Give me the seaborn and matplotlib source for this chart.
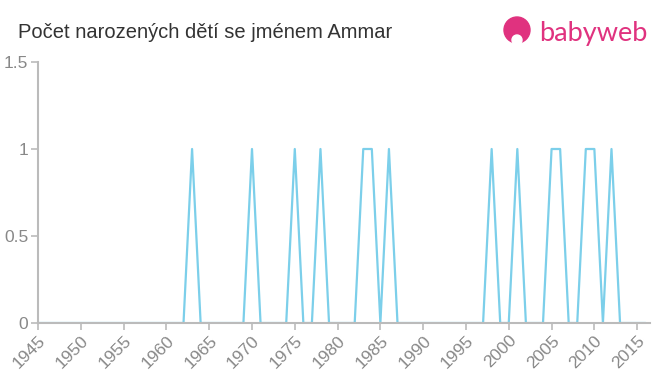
import numpy as np
import pandas as pd
import matplotlib
matplotlib.use("Agg")
import matplotlib.pyplot as plt
import seaborn as sns
from matplotlib.patches import Circle

years = list(range(1945, 2017))
one_years = [1963, 1970, 1975, 1978, 1983, 1984, 1986, 1998, 2001, 2005, 2006, 2009, 2010, 2012]
counts = [1 if y in one_years else 0 for y in years]
xticks = list(range(1945, 2016, 5))
yticks = [0, 0.5, 1, 1.5]
yticklabels = ["0", "0.5", "1", "1.5"]
title = "Počet narozených dětí se jménem Ammar"

df = pd.DataFrame({"year": years, "count": counts})

sns.set_theme(style="white")
plt.rcParams['font.family'] = ['Liberation Sans', 'DejaVu Sans']

fig = plt.figure(figsize=(6.6, 3.75), dpi=100)
ax = fig.add_axes([38/660, 1-323/375, (650-38)/660, (323-62)/375])
sns.lineplot(data=df, x="year", y="count", ax=ax, color="#7ccfea", linewidth=1.6)

ax.set_xlim(1945, 2016.5)
ax.set_ylim(0, 1.5)
ax.set_xticks(xticks)
ax.set_xticklabels([str(t) for t in xticks], rotation=45, ha="right", rotation_mode="anchor",
                   color="#888888", fontsize=12.5)
ax.set_yticks(yticks)
ax.set_yticklabels(yticklabels, color="#888888", fontsize=12.5)
ax.set_xlabel("")
ax.set_ylabel("")
for s in ["top", "right"]:
    ax.spines[s].set_visible(False)
for s in ["left", "bottom"]:
    ax.spines[s].set_color("#bbbbbb")
    ax.spines[s].set_linewidth(1.5)
ax.tick_params(axis="both", which="both", direction="out", length=5, width=1.2, color="#bbbbbb",
               bottom=True, left=True, pad=2)

fig.text(18/660, 1-32/375, title, fontsize=14.5, color="#333333", va="center", ha="left")

# logo
pink = "#e0327f"
fig.patches.append(Circle((517, 375-30), 13, transform=None, color=pink))
fig.patches.append(Circle((517, 375-40), 5, transform=None, color="white"))
fig.text(539/660, 1-33/375, "babyweb", fontsize=19.5, color=pink, va="center", ha="left",
         family=["Lato", "DejaVu Sans"])

fig.savefig("out.png", dpi=100)
